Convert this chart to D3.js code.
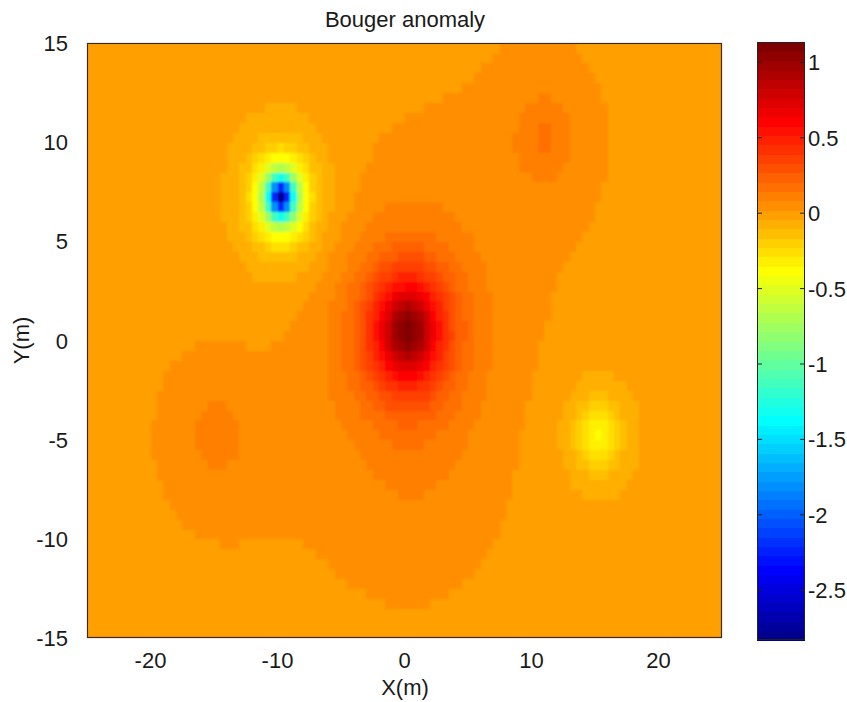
<!DOCTYPE html>
<html>
<head>
<meta charset="utf-8">
<script src="https://cdn.jsdelivr.net/npm/d3@7"></script>
<style>
  html, body { margin: 0; padding: 0; background: #ffffff; }
  svg { display: block; }
  text { font-family: "Liberation Sans", Arial, sans-serif; fill: #1a1a1a; }
</style>
</head>
<body>
<svg id="chart" width="847" height="702"></svg>
<script>
// Buried bodies (spheres) producing the anomaly: centre position (m), depth (m), peak anomaly
const sourceX     = [0,     -10,   15,    10.7,  -15,   -9,    0.5];
const sourceY     = [0.25,   7,    -5,    10,    -5,     6,   -7];
const sourceDepth = [3.1,    1.2,   1.95,  2.8,   3.3,   4,    5];
const sourcePeak  = [1.12,  -2.83, -0.39,  0.145, 0.11, -0.05,  0.04];

// Survey grid (m)
const gridStep = 0.5;
const xExtent = [-25, 25];
const yExtent = [-15, 15];

// Axis ticks
const xTicks = [-20, -10, 0, 10, 20];
const yTicks = [-15, -10, -5, 0, 5, 10, 15];
const colorTicks = [-2.5, -2, -1.5, -1, -0.5, 0, 0.5, 1];
const colorLimits = [-2.83, 1.135];

const titleText = "Bouger anomaly";
const xLabelText = "X(m)";
const yLabelText = "Y(m)";

// Plot geometry
const plot = { left: 87, right: 722, top: 43, bottom: 638 };
const bar = { left: 757, right: 805, top: 42, bottom: 640 };

// 64-level jet colormap
function jetColormap(m) {
  const n = Math.ceil(m / 4);
  const u = [];
  for (let i = 1; i <= n; i++) u.push(i / n);
  for (let i = 1; i < n; i++) u.push(1);
  for (let i = n; i >= 1; i--) u.push(i / n);
  const g0 = Math.ceil(n / 2) - (m % 4 === 1 ? 1 : 0);
  const rows = Array.from({ length: m }, () => [0, 0, 0]);
  u.forEach((v, j) => {
    const gi = g0 + j;
    const ri = gi + n;
    const bi = gi - n;
    if (gi >= 0 && gi < m) rows[gi][1] = v;
    if (ri >= 0 && ri < m) rows[ri][0] = v;
    if (bi >= 0 && bi < m) rows[bi][2] = v;
  });
  return rows.map(([r, g, b]) => d3.rgb(Math.round(r * 255), Math.round(g * 255), Math.round(b * 255)).formatHex());
}
const jet = jetColormap(64);

function colorIndex(v) {
  const t = (v - colorLimits[0]) / (colorLimits[1] - colorLimits[0]);
  return Math.max(0, Math.min(63, Math.floor(t * 64)));
}

// Vertical attraction of the spheres at a surface point
function anomaly(x, y) {
  let g = 0;
  for (let k = 0; k < sourceX.length; k++) {
    const z = sourceDepth[k];
    const r2 = (x - sourceX[k]) ** 2 + (y - sourceY[k]) ** 2;
    g += sourcePeak[k] * Math.pow(1 + r2 / (z * z), -1.5);
  }
  return g;
}

const svg = d3.select("#chart");
const defs = svg.append("defs");
defs.append("clipPath").attr("id", "plot-clip")
  .append("rect")
  .attr("x", plot.left).attr("y", plot.top)
  .attr("width", plot.right - plot.left).attr("height", plot.bottom - plot.top);
defs.append("filter").attr("id", "soft")
  .attr("x", "-2%").attr("y", "-2%").attr("width", "104%").attr("height", "104%")
  .append("feGaussianBlur").attr("stdDeviation", 0.8).attr("edgeMode", "duplicate");

const x = d3.scaleLinear().domain(xExtent).range([plot.left, plot.right]);
const y = d3.scaleLinear().domain(yExtent).range([plot.bottom, plot.top]);

// Flat-shaded cells: each cell takes the value at its lower-left node
const cells = [];
const nx = Math.round((xExtent[1] - xExtent[0]) / gridStep);
const ny = Math.round((yExtent[1] - yExtent[0]) / gridStep);
for (let j = 0; j < ny; j++) {
  for (let i = 0; i < nx; i++) {
    const cx = xExtent[0] + i * gridStep;
    const cy = yExtent[0] + j * gridStep;
    cells.push({ x: cx, y: cy, v: anomaly(cx, cy) });
  }
}

svg.append("g").attr("clip-path", "url(#plot-clip)")
  .append("g")
  .attr("filter", "url(#soft)")
  .attr("shape-rendering", "crispEdges")
  .selectAll("rect")
  .data(cells)
  .join("rect")
  .attr("x", d => x(d.x))
  .attr("y", d => y(d.y + gridStep))
  .attr("width", d => x(d.x + gridStep) - x(d.x) + 0.6)
  .attr("height", d => y(d.y) - y(d.y + gridStep) + 0.6)
  .attr("fill", d => jet[colorIndex(d.v)]);

// Axes box
svg.append("rect")
  .attr("x", plot.left + 0.5).attr("y", plot.top + 0.5)
  .attr("width", plot.right - plot.left - 1).attr("height", plot.bottom - plot.top - 1)
  .attr("fill", "none").attr("stroke", "#3a2a20").attr("stroke-width", 1.2);

// Tick labels
const tickFont = 22;
svg.append("g").selectAll("text")
  .data(xTicks).join("text")
  .attr("x", d => x(d)).attr("y", 668)
  .attr("text-anchor", "middle").attr("font-size", tickFont)
  .text(d => d);

svg.append("g").selectAll("text")
  .data(yTicks).join("text")
  .attr("x", 68).attr("y", d => y(d) + 8)
  .attr("text-anchor", "end").attr("font-size", tickFont)
  .text(d => d);

// Titles
svg.append("text")
  .attr("x", 405).attr("y", 27)
  .attr("text-anchor", "middle").attr("font-size", 22)
  .text(titleText);

svg.append("text")
  .attr("x", 405).attr("y", 695)
  .attr("text-anchor", "middle").attr("font-size", 22)
  .text(xLabelText);

svg.append("text")
  .attr("transform", `translate(29, ${(plot.top + plot.bottom) / 2}) rotate(-90)`)
  .attr("text-anchor", "middle").attr("font-size", 22)
  .text(yLabelText);

// Colorbar
const c = d3.scaleLinear().domain(colorLimits).range([bar.bottom, bar.top]);
const levels = d3.range(64);
const levelSize = (colorLimits[1] - colorLimits[0]) / 64;
svg.append("g")
  .attr("shape-rendering", "crispEdges")
  .selectAll("rect")
  .data(levels).join("rect")
  .attr("x", bar.left)
  .attr("width", bar.right - bar.left)
  .attr("y", k => c(colorLimits[0] + (k + 1) * levelSize))
  .attr("height", k => c(colorLimits[0] + k * levelSize) - c(colorLimits[0] + (k + 1) * levelSize) + 0.5)
  .attr("fill", k => jet[k]);

svg.append("rect")
  .attr("x", bar.left + 0.5).attr("y", bar.top + 0.5)
  .attr("width", bar.right - bar.left - 1).attr("height", bar.bottom - bar.top - 1)
  .attr("fill", "none").attr("stroke", "#222").attr("stroke-width", 1);

const cbTicks = svg.append("g");
cbTicks.selectAll("line.l").data(colorTicks).join("line")
  .attr("class", "l")
  .attr("x1", bar.left).attr("x2", bar.left + 5)
  .attr("y1", d => c(d)).attr("y2", d => c(d))
  .attr("stroke", "#222");
cbTicks.selectAll("line.r").data(colorTicks).join("line")
  .attr("class", "r")
  .attr("x1", bar.right - 5).attr("x2", bar.right)
  .attr("y1", d => c(d)).attr("y2", d => c(d))
  .attr("stroke", "#222");
cbTicks.selectAll("text").data(colorTicks).join("text")
  .attr("x", bar.right + 3).attr("y", d => c(d) + 8)
  .attr("font-size", tickFont)
  .text(d => d);
</script>
</body>
</html>
